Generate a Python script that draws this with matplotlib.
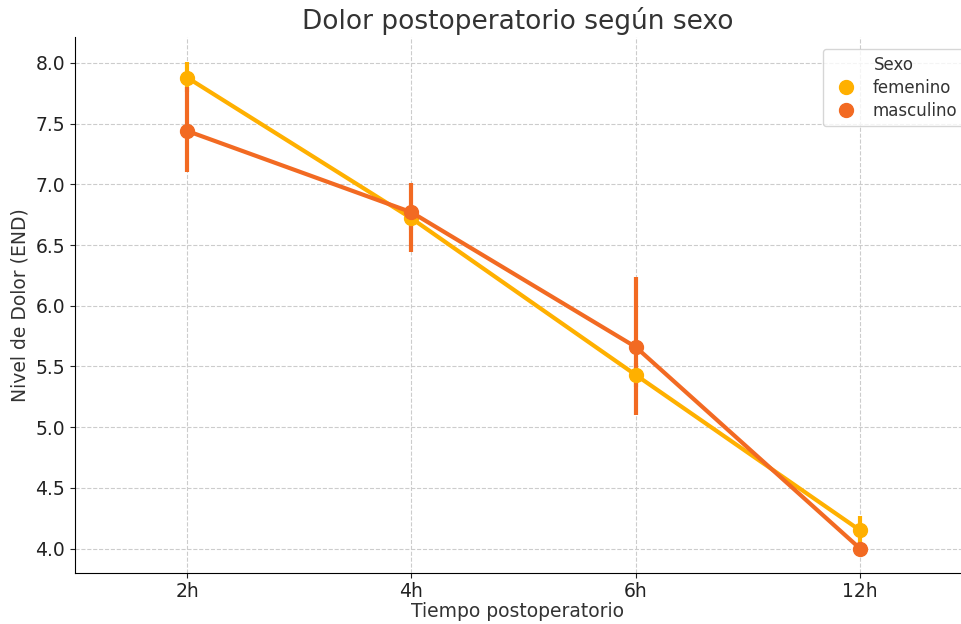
import numpy as np
import matplotlib.pyplot as plt

# datos
tiempos = ['2h', '4h', '6h', '12h']
fem_media = [7.88, 6.72, 5.43, 4.15]
fem_inf = [7.76, 6.62, 5.33, 4.04]
fem_sup = [8.01, 6.83, 5.53, 4.27]
masc_media = [7.44, 6.77, 5.66, 4.00]
masc_inf = [7.10, 6.44, 5.10, 3.99]
masc_sup = [7.80, 7.01, 6.24, 4.01]

colores = {'femenino': '#FFB000', 'masculino': '#F26A22'}

fig, ax = plt.subplots(figsize=(9.61, 6.24), dpi=100)
x = np.arange(len(tiempos))

for nombre, media, inf, sup in [('femenino', fem_media, fem_inf, fem_sup),
                                ('masculino', masc_media, masc_inf, masc_sup)]:
    c = colores[nombre]
    media = np.array(media)
    err = [media - np.array(inf), np.array(sup) - media]
    ax.errorbar(x, media, yerr=err, color=c, lw=3, elinewidth=3,
                capsize=0, marker='o', ms=10, label=nombre, zorder=3)

ax.set_xticks(x)
ax.set_xticklabels(tiempos)
ax.set_xlim(-0.5, 3.45)
ax.set_ylim(3.8, 8.21)
ax.set_yticks(np.arange(4.0, 8.01, 0.5))
ax.tick_params(labelsize=13.5, colors='#222222')
ax.tick_params(axis='x', pad=3)
ax.grid(True, linestyle='--', color='#cccccc', lw=0.8)
ax.spines['top'].set_visible(False)
ax.spines['right'].set_visible(False)

ax.set_title('Dolor postoperatorio según sexo', fontsize=19, color='#333333')
ax.set_xlabel('Tiempo postoperatorio', fontsize=13.5, color='#333333', labelpad=1)
ax.set_ylabel('Nivel de Dolor (END)', fontsize=13.5, color='#333333')

handles = [plt.Line2D([], [], ls='', marker='o', ms=10, color=colores[k])
           for k in colores]
leg = fig.legend(handles, list(colores), title='Sexo', loc='upper right',
                 fontsize=12, title_fontsize=12, handletextpad=0.6,
                 labelspacing=0.3, bbox_to_anchor=(1.012, 0.935))
leg.get_title().set_color('#333333')
for t in leg.get_texts():
    t.set_color('#333333')

fig.subplots_adjust(left=0.078, right=1.0, top=0.94, bottom=0.082)
plt.savefig('out.png')
